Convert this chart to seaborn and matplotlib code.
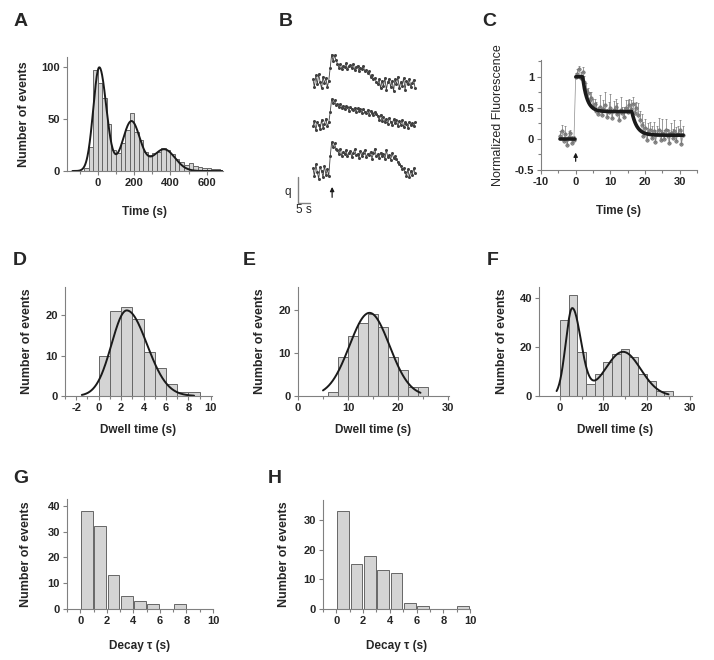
import numpy as np
import pandas as pd
import seaborn as sns
import matplotlib.pyplot as plt
from matplotlib.ticker import MultipleLocator

# ---- A: arrival times histogram (bin 25 s) ----
a_edges = np.arange(-75, 701, 25)
a_counts = [3, 23, 97, 85, 70, 45, 20, 17, 27, 40, 56, 38, 30, 18, 15, 17,
            18, 22, 20, 16, 12, 9, 6, 8, 5, 4, 3, 3, 2, 2, 1]
# gaussian fit components: centre, amplitude, sd left, sd right
a_peaks = [(8, 100, 33, 39), (185, 48, 48, 48), (365, 21, 60, 60)]

# ---- B: three single-molecule traces (q units, 0.6 s sampling) ----
b_dt = 0.6
b_trace1 = [0.10, -0.20, 0.25, -0.10, 0.30, 0.00, -0.25, 0.20, -0.05, 0.15, -0.20, 0.05,
            0.55, 1.05, 0.80, 1.02, 0.85,
            0.70, 0.55, 0.68, 0.50, 0.62, 0.58, 0.72, 0.48, 0.60, 0.65, 0.52, 0.70, 0.45,
            0.58, 0.62, 0.40, 0.55, 0.50, 0.60, 0.42,
            0.45, 0.35, 0.40, 0.20, 0.28, 0.10, 0.15, 0.00,
            -0.10, 0.10, -0.25, 0.05, -0.15, 0.15, -0.30, 0.00, 0.12, -0.20, 0.05, -0.35,
            0.10, -0.10, 0.20, -0.25, 0.00, -0.15, 0.15, -0.30, 0.05, -0.10, 0.10, -0.20,
            -0.05, 0.08, -0.25]
b_trace2 = [-0.05, 0.15, -0.20, 0.10, 0.00, -0.15, 0.20, -0.10, 0.05, 0.25, -0.05, 0.10,
            0.50, 1.00, 0.85, 0.95, 0.78,
            0.80, 0.70, 0.82, 0.65, 0.75, 0.60, 0.72, 0.68, 0.55, 0.70, 0.62, 0.58, 0.66,
            0.50, 0.64, 0.55, 0.60, 0.48, 0.62, 0.52, 0.45, 0.58, 0.40, 0.55, 0.48, 0.38,
            0.50, 0.42,
            0.35, 0.20, 0.40, 0.15, 0.30, 0.10, 0.25, 0.05, 0.28, 0.12, 0.00, 0.22, 0.08,
            0.18, -0.05, 0.15, 0.02, 0.20, -0.08, 0.10, 0.05, -0.10, 0.12, 0.00, 0.08,
            -0.05, 0.10]
b_trace3 = [0.15, -0.15, 0.30, 0.00, -0.25, 0.20, 0.05, -0.20, 0.25, -0.10, 0.10, -0.15,
            0.60, 1.15, 0.95, 1.10, 0.90,
            0.85, 0.70, 0.90, 0.62, 0.78, 0.68, 0.85, 0.60, 0.75, 0.82, 0.58, 0.72, 0.88,
            0.65, 0.70, 0.55, 0.80, 0.62, 0.75, 0.85, 0.58, 0.70, 0.65, 0.78, 0.52, 0.72,
            0.90, 0.60, 0.68, 0.55, 0.75,
            0.62, 0.70, 0.50, 0.85, 0.58, 0.65, 0.48, 0.72, 0.55, 0.60,
            0.50, 0.40, 0.30, 0.25, 0.10, 0.15,
            0.00, -0.15, 0.10, -0.20, 0.05, -0.10, 0.15, -0.05]
b_offsets = [5.12, 3.46, 1.65]

# ---- C: averaged normalized fluorescence ----
c_time = np.arange(-4.5, 31.01, 0.5)
c_value = [0.05, 0.12, -0.04, 0.08, -0.10, 0.03, 0.10, -0.06, -0.02,
           1.00, 1.05, 1.12, 0.98, 1.08,
           0.92, 0.78, 0.74, 0.62, 0.66, 0.52, 0.56, 0.45,
           0.40, 0.52, 0.38, 0.48, 0.55, 0.36, 0.44, 0.50, 0.34, 0.46, 0.52, 0.40, 0.30,
           0.47, 0.42, 0.36, 0.50, 0.44, 0.55, 0.48,
           0.56, 0.42, 0.50, 0.38,
           0.30, 0.22, 0.05, 0.18, -0.02, 0.10, 0.15, 0.02,
           0.12, -0.05, 0.08, 0.15, -0.02, 0.10, 0.00, 0.14, 0.04, -0.06, 0.10, 0.02,
           0.12, -0.03, 0.08, 0.15, -0.08, 0.06]
c_err = [0.08, 0.10, 0.06, 0.12, 0.07, 0.09, 0.05, 0.10, 0.06,
         0.06, 0.08, 0.05, 0.10, 0.07,
         0.09, 0.12, 0.08, 0.14, 0.10, 0.12, 0.09, 0.15,
         0.12, 0.18, 0.10, 0.14, 0.20, 0.12, 0.16, 0.22, 0.10, 0.15, 0.12, 0.18, 0.14,
         0.20, 0.10, 0.16, 0.12, 0.18, 0.10, 0.14,
         0.12, 0.16, 0.10, 0.20,
         0.15, 0.18, 0.22, 0.14, 0.20, 0.16, 0.12, 0.18,
         0.15, 0.20, 0.12, 0.18, 0.16, 0.22, 0.14, 0.18, 0.12, 0.20, 0.16, 0.14,
         0.18, 0.22, 0.12, 0.16, 0.20, 0.14]
# fit: plateaus and decay times
c_levels = [1.0, 0.44, 0.06]
c_drop_start = [2.0, 16.2]
c_tau = [1.3, 1.5]

# ---- D, E, F: dwell time histograms ----
d_edges = np.arange(0, 10, 1)
d_counts = [10, 21, 22, 19, 11, 7, 3, 1, 1]
d_fit = (2.5, 21.2, 1.35, 1.8)

e_edges = np.arange(6, 27, 2)
e_counts = [1, 9, 14, 17, 19, 16, 9, 6, 2, 2]
e_fit = (14.3, 19.3, 4.0, 4.0)

f_edges = np.arange(0, 27, 2)
f_counts = [31, 41, 18, 5, 9, 14, 17, 19, 16, 9, 6, 2, 2]
f_fit = [(2.8, 35.5, 1.5, 2.0), (14.5, 18.0, 4.1, 4.1)]

# ---- G, H: decay time histograms ----
g_edges = np.arange(0, 11, 1)
g_counts = [38, 32, 13, 5, 3, 2, 0, 2, 0, 0]
h_edges = np.arange(0, 11, 1)
h_counts = [33, 15, 18, 13, 12, 2, 1, 0, 0, 1]

sns.set_theme(style='ticks')
plt.rcParams['font.family'] = ['Liberation Sans', 'DejaVu Sans']
plt.rcParams['axes.unicode_minus'] = False

W, H = 714, 660
fig = plt.figure(figsize=(W / 100, H / 100), dpi=100)
GREY = '0.5'


def panel(x0, y0, x1, y1):
    return fig.add_axes([x0 / W, 1 - y1 / H, (x1 - x0) / W, (y1 - y0) / H])


def peak(x, mu, amp, sl, sr):
    s = np.where(x < mu, sl, sr)
    return amp * np.exp(-0.5 * ((x - mu) / s) ** 2)


def style(ax, xlim, ylim, xticks, yticks, xminor, xlabel, ylabel='Number of events',
          yminor=None, ylabel_weight='bold', xpad=10, ypad=11):
    ax.set_xlim(xlim)
    ax.set_ylim(ylim)
    ax.set_xticks(xticks)
    ax.set_yticks(yticks)
    ax.xaxis.set_minor_locator(MultipleLocator(xminor))
    if yminor:
        ax.yaxis.set_minor_locator(MultipleLocator(yminor))
    sns.despine(ax=ax)
    for s in ['left', 'bottom']:
        ax.spines[s].set_color(GREY)
        ax.spines[s].set_linewidth(0.8)
    ax.tick_params(which='both', direction='out', color=GREY, width=0.8,
                   labelsize=8, pad=2)
    ax.tick_params(which='major', length=3)
    ax.tick_params(which='minor', length=2)
    for lab in ax.get_xticklabels() + ax.get_yticklabels():
        lab.set_fontweight('bold')
    ax.set_xlabel(xlabel, fontsize=8.5, fontweight='bold', labelpad=xpad)
    ax.set_ylabel(ylabel, fontsize=9, fontweight=ylabel_weight, labelpad=ypad)
    ax.grid(False)


def bars(ax, edges, counts, shrink=1.0):
    edges = np.asarray(edges, dtype=float)
    df = pd.DataFrame({'x': (edges[:-1] + edges[1:]) / 2, 'n': counts})
    sns.histplot(data=df, x='x', weights='n', bins=list(edges), ax=ax, shrink=shrink,
                 color='#d4d4d4', edgecolor='#666666', linewidth=0.7, alpha=1)


def fitline(ax, x, y, lw=1.4):
    sns.lineplot(x=x, y=y, ax=ax, color='k', lw=lw, estimator=None, sort=False)


def up_arrow(ax, x, y0, y1):
    ax.annotate('', xy=(x, y1), xytext=(x, y0),
                arrowprops=dict(arrowstyle='-|>', color='k', lw=0.9,
                                mutation_scale=6, shrinkA=0, shrinkB=0))


def letter(x, y, s):
    fig.text(x / W, 1 - y / H, s, fontsize=14, fontweight='bold', ha='left', va='baseline')


# A
ax = panel(67, 57, 223, 171)
bars(ax, a_edges, a_counts)
xa = np.linspace(-140, 685, 400)
fitline(ax, xa, sum(peak(xa, *p) for p in a_peaks))
style(ax, (-170, 690), (0, 110), [0, 200, 400, 600], [0, 50, 100], 100, 'Time (s)',
      xpad=13, ypad=8)
letter(14, 26, 'A')

# B
ax = fig.add_axes([270 / W, 1 - 215 / H, 160 / W, 175 / H])
ax.set_xlim(-17.9, 48.8)
ax.set_ylim(0, 175 / 26)
ax.axis('off')
tb = np.arange(len(b_trace1)) * b_dt
for tr, off in zip([b_trace1, b_trace2, b_trace3], b_offsets):
    sns.lineplot(x=tb, y=np.array(tr) + off, ax=ax, color='0.25', lw=0.6,
                 marker='o', markersize=2.2, markeredgewidth=0, estimator=None)
ax.plot([-6.25, -6.25, -1.25], [1.46, 0.46, 0.46], color=GREY, lw=1)
ax.text(-10.5, 0.9, 'q', fontsize=8.5, ha='center', va='center')
ax.text(-3.75, 0.2, '5 s', fontsize=8.5, ha='center', va='center')
up_arrow(ax, 8.0, 0.68, 1.08)
letter(279, 26, 'B')

# C
ax = panel(541, 60, 697, 170)
sns.lineplot(x=c_time, y=c_value, ax=ax, color='0.55', lw=0.5, estimator=None)
ax.errorbar(c_time, c_value, yerr=[np.zeros(len(c_err)), c_err], fmt='none',
            ecolor='0.45', elinewidth=0.5, capsize=1.0, capthick=0.5)
sns.scatterplot(x=c_time, y=c_value, ax=ax, s=6, color='0.6', edgecolor='0.35',
                linewidth=0.4)
t_pre = np.linspace(-4.5, -0.2, 20)
fitline(ax, t_pre, np.zeros_like(t_pre), lw=2.6)
t_fit = np.linspace(0.05, 31, 400)
y_fit = np.where(t_fit < c_drop_start[0], c_levels[0],
                 c_levels[1] + (c_levels[0] - c_levels[1])
                 * np.exp(-np.clip(t_fit - c_drop_start[0], 0, None) / c_tau[0]))
y_fit = np.where(t_fit < c_drop_start[1], y_fit,
                 c_levels[2] + (y_fit - c_levels[2])
                 * np.exp(-np.clip(t_fit - c_drop_start[1], 0, None) / c_tau[1]))
fitline(ax, t_fit, y_fit, lw=2.6)
up_arrow(ax, 0, -0.36, -0.22)
style(ax, (-10, 35), (-0.5, 1.27), [-10, 0, 10, 20, 30], [-0.5, 0, 0.5, 1], 5,
      'Time (s)', ylabel='Normalized Fluorescence', yminor=0.25, ylabel_weight='normal',
      xpad=13, ypad=8)
ax.set_yticklabels(['-0.5', '0', '0.5', '1'], fontweight='bold')
letter(482, 26, 'C')

# D
ax = panel(65, 287, 212, 396)
bars(ax, d_edges, d_counts)
xd = np.linspace(-1.5, 8.5, 200)
fitline(ax, xd, peak(xd, *d_fit))
style(ax, (-3, 10.1), (0, 27), [-2, 0, 2, 4, 6, 8, 10], [0, 10, 20], 1, 'Dwell time (s)',
      xpad=8, ypad=9)
letter(13, 265, 'D')

# E
ax = panel(298, 287, 449, 396)
bars(ax, e_edges, e_counts)
xe = np.linspace(5, 24.5, 200)
fitline(ax, xe, peak(xe, *e_fit))
style(ax, (0, 30.2), (0, 25.3), [0, 10, 20, 30], [0, 10, 20], 5, 'Dwell time (s)',
      xpad=8, ypad=9)
letter(243, 265, 'E')

# F
ax = panel(539, 287, 692, 396)
bars(ax, f_edges, f_counts)
xf = np.linspace(-0.8, 25, 300)
fitline(ax, xf, sum(peak(xf, *p) for p in f_fit))
style(ax, (-4.85, 30.4), (0, 44.4), [0, 10, 20, 30], [0, 20, 40], 5, 'Dwell time (s)',
      xpad=8, ypad=8)
letter(487, 265, 'F')

# G
ax = panel(67, 499, 213, 609)
bars(ax, g_edges, g_counts, shrink=0.88)
style(ax, (-1, 10), (0, 42.6), [0, 2, 4, 6, 8, 10], [0, 10, 20, 30, 40], 1, 'Decay τ (s)',
      xpad=10, ypad=11)
letter(13, 483, 'G')

# H
ax = panel(323, 500, 470, 609)
bars(ax, h_edges, h_counts, shrink=0.88)
style(ax, (-1, 10), (0, 36.7), [0, 2, 4, 6, 8, 10], [0, 10, 20, 30], 1, 'Decay τ (s)',
      xpad=10, ypad=10)
letter(268, 483, 'H')

fig.savefig('out.png', dpi=100)
